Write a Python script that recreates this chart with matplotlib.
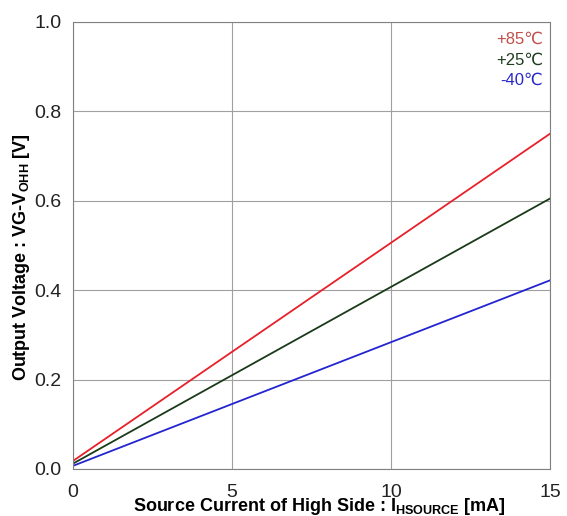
import matplotlib.pyplot as plt

# Data (straight lines, two end points each)
current_ma = [0, 15]
v_85c = [0.018, 0.750]
v_25c = [0.012, 0.605]
v_m40c = [0.007, 0.422]

labels = ["+85\u2103", "+25\u2103", "-40\u2103"]
line_colors = ["#e8202a", "#1a3a1a", "#2424d0"]
text_colors = ["#c0504d", "#1e3d1e", "#2828c8"]

plt.rcParams["font.family"] = ["Liberation Sans", "DejaVu Sans"]
plt.rcParams["mathtext.fontset"] = "custom"
plt.rcParams["mathtext.rm"] = "Liberation Sans"
plt.rcParams["mathtext.bf"] = "Liberation Sans:bold"

fig = plt.figure(figsize=(5.67, 5.16), dpi=100)
ax = fig.add_axes([0.1287, 0.0911, 0.8413, 0.8663])

for v, c in zip([v_85c, v_25c, v_m40c], line_colors):
    ax.plot(current_ma, v, color=c, lw=1.3)

ax.set_xlim(0, 15)
ax.set_ylim(0, 1.0)
ax.set_xticks([0, 5, 10, 15])
ax.set_yticks([0.0, 0.2, 0.4, 0.6, 0.8, 1.0])
ax.set_yticklabels([f"{t:.1f}" for t in [0.0, 0.2, 0.4, 0.6, 0.8, 1.0]])
ax.tick_params(length=0, labelsize=14, colors="#222222", pad=8)
ax.tick_params(axis="x", pad=11)
ax.grid(True, color="#a0a0a0", lw=0.8)
for s in ax.spines.values():
    s.set_color("#808080")
    s.set_linewidth(0.8)

ax.set_xlabel("Source Current of High Side : I$_{\\mathbf{HSOURCE}}$ [mA]",
              fontsize=13, fontweight="bold", labelpad=-4)
ax.set_ylabel("Output Voltage : VG-V$_{\\mathbf{OHH}}$ [V]",
              fontsize=13, fontweight="bold", labelpad=2)
ax.xaxis.label.set_x(0.516)
ax.yaxis.label.set_y(0.474)

for i, (lab, c) in enumerate(zip(labels, text_colors)):
    ax.text(0.985, 0.978 - i * 0.046, lab, transform=ax.transAxes,
            ha="right", va="top", color=c, fontsize=12)

fig.savefig("out.png", dpi=100)
